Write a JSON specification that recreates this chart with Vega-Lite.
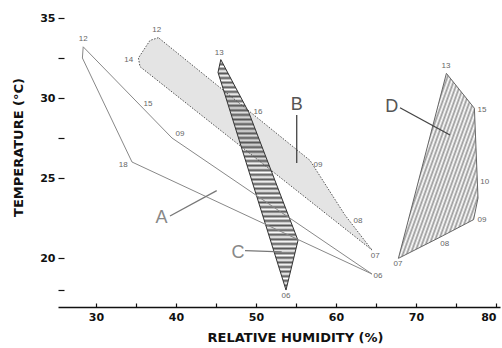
{
  "$schema": "https://vega.github.io/schema/vega-lite/v6.json",
  "width": 442,
  "height": 297,
  "autosize": "none",
  "padding": {"left": 58, "top": 10, "right": 2, "bottom": 41},
  "background": "white",
  "config": {"view": {"stroke": null}},
  "datasets": {
    "poly": [
      {"p": "A", "o": 1, "x": 28.4, "y": 33.2},
      {"p": "A", "o": 2, "x": 28.3, "y": 32.5},
      {"p": "A", "o": 3, "x": 34.5, "y": 26.0},
      {"p": "A", "o": 4, "x": 64.5, "y": 19.0},
      {"p": "A", "o": 5, "x": 39.5, "y": 27.5},
      {"p": "A", "o": 6, "x": 28.4, "y": 33.2},
      {"p": "B", "o": 1, "x": 37.8, "y": 33.77},
      {"p": "B", "o": 2, "x": 36.75, "y": 33.6},
      {"p": "B", "o": 3, "x": 35.3, "y": 32.5},
      {"p": "B", "o": 4, "x": 35.5, "y": 31.96},
      {"p": "B", "o": 5, "x": 64.5, "y": 20.5},
      {"p": "B", "o": 6, "x": 61.1, "y": 22.7},
      {"p": "B", "o": 7, "x": 56.75, "y": 26.1},
      {"p": "B", "o": 8, "x": 37.8, "y": 33.77},
      {"p": "C", "o": 1, "x": 45.6, "y": 32.4},
      {"p": "C", "o": 2, "x": 49.1, "y": 29.1},
      {"p": "C", "o": 3, "x": 55.25, "y": 21.1},
      {"p": "C", "o": 4, "x": 53.75, "y": 18.0},
      {"p": "C", "o": 5, "x": 45.25, "y": 31.6},
      {"p": "C", "o": 6, "x": 45.6, "y": 32.4},
      {"p": "D", "o": 1, "x": 73.8, "y": 31.54},
      {"p": "D", "o": 2, "x": 77.3, "y": 29.36},
      {"p": "D", "o": 3, "x": 77.75, "y": 23.75},
      {"p": "D", "o": 4, "x": 77.2, "y": 22.4},
      {"p": "D", "o": 5, "x": 73.0, "y": 21.3},
      {"p": "D", "o": 6, "x": 67.8, "y": 19.98},
      {"p": "D", "o": 7, "x": 73.8, "y": 31.54}
    ],
    "lbl": [
      {"t": "12", "x": 28.4, "y": 33.7},
      {"t": "15", "x": 36.5, "y": 29.6},
      {"t": "09", "x": 40.5, "y": 27.75},
      {"t": "18", "x": 33.4, "y": 25.8},
      {"t": "06", "x": 65.25, "y": 18.9},
      {"t": "12", "x": 37.6, "y": 34.25},
      {"t": "14", "x": 34.1, "y": 32.4},
      {"t": "09", "x": 57.75, "y": 25.8},
      {"t": "08", "x": 62.75, "y": 22.3},
      {"t": "07", "x": 64.9, "y": 20.1},
      {"t": "13", "x": 45.4, "y": 32.8},
      {"t": "16", "x": 50.25, "y": 29.1},
      {"t": "06", "x": 53.75, "y": 17.6},
      {"t": "13", "x": 73.75, "y": 32.0},
      {"t": "15", "x": 78.25, "y": 29.25},
      {"t": "10", "x": 78.6, "y": 24.75},
      {"t": "09", "x": 78.25, "y": 22.4},
      {"t": "08", "x": 73.6, "y": 20.9},
      {"t": "07", "x": 67.75, "y": 19.6}
    ],
    "letters": [
      {"t": "A", "x": 38.2, "y": 22.5},
      {"t": "B", "x": 55.1, "y": 29.56},
      {"t": "C", "x": 47.75, "y": 20.31},
      {"t": "D", "x": 66.96, "y": 29.46}
    ],
    "ptr": [
      {"t": "A", "x": 39.25, "y": 22.63, "x2": 45.09, "y2": 24.21},
      {"t": "B", "x": 55.09, "y": 28.94, "x2": 55.09, "y2": 25.94},
      {"t": "C", "x": 48.63, "y": 20.46, "x2": 53.21, "y2": 20.39},
      {"t": "D", "x": 68.0, "y": 29.39, "x2": 74.25, "y2": 27.69}
    ]
  },
  "encoding": {
    "x": {
      "field": "x", "type": "quantitative",
      "scale": {"domain": [25.25, 80.5], "nice": false, "zero": false},
      "axis": {
        "title": "RELATIVE HUMIDITY (%)",
        "values": [30, 35, 40, 45, 50, 55, 60, 65, 70, 75, 80],
        "labelExpr": "datum.value % 10 === 0 ? datum.label : ''",
        "labelFlush": 8,
        "grid": false,
        "domainColor": "#111", "domainWidth": 1.4,
        "tickColor": "#111", "tickSize": -4, "tickWidth": 1.2,
        "labelPadding": 8,
        "labelFont": "DejaVu Sans", "labelFontWeight": "bold", "labelFontSize": 11, "labelColor": "#111",
        "titleFont": "DejaVu Sans", "titleFontWeight": "bold", "titleFontSize": 13, "titleColor": "#111",
        "titleX": 237, "titleY": 24
      }
    },
    "y": {
      "field": "y", "type": "quantitative",
      "scale": {"domain": [16.94, 35.5], "nice": false, "zero": false},
      "axis": {
        "title": "TEMPERATURE (°C)",
        "values": [18, 20, 25, 27.5, 30, 32.5, 35],
        "labelExpr": "datum.value % 5 === 0 ? datum.label : ''",
        "grid": false,
        "domain": false,
        "tickColor": "#111", "tickSize": -6, "tickWidth": 1.2,
        "labelPadding": 9,
        "labelFont": "DejaVu Sans", "labelFontWeight": "bold", "labelFontSize": 11, "labelColor": "#111",
        "titleFont": "DejaVu Sans", "titleFontWeight": "bold", "titleFontSize": 13, "titleColor": "#111",
        "titleX": -33, "titleY": 137
      }
    }
  },
  "layer": [
    {
      "data": {"name": "poly"},
      "transform": [{"filter": "datum.p === 'B'"}],
      "mark": {"type": "line", "fill": "#e4e4e4", "stroke": "#555", "strokeWidth": 1, "strokeDash": [1.5, 1.5]},
      "encoding": {"order": {"field": "o", "type": "quantitative"}}
    },
    {
      "data": {"name": "poly"},
      "transform": [{"filter": "datum.p === 'C'"}],
      "mark": {
        "type": "line", "stroke": "#333", "strokeWidth": 1,
        "fill": {
          "gradient": "linear", "x1": 0, "y1": 0, "x2": 0, "y2": 1,
          "stops": [
            {"offset": 0, "color": "#555"}, {"offset": 0.01, "color": "rgba(85,85,85,0)"},
            {"offset": 0.02, "color": "#555"}, {"offset": 0.03, "color": "rgba(85,85,85,0)"},
            {"offset": 0.04, "color": "#555"}, {"offset": 0.05, "color": "rgba(85,85,85,0)"},
            {"offset": 0.06, "color": "#555"}, {"offset": 0.07, "color": "rgba(85,85,85,0)"},
            {"offset": 0.08, "color": "#555"}, {"offset": 0.09, "color": "rgba(85,85,85,0)"},
            {"offset": 0.10, "color": "#555"}, {"offset": 0.11, "color": "rgba(85,85,85,0)"},
            {"offset": 0.12, "color": "#555"}, {"offset": 0.13, "color": "rgba(85,85,85,0)"},
            {"offset": 0.14, "color": "#555"}, {"offset": 0.15, "color": "rgba(85,85,85,0)"},
            {"offset": 0.16, "color": "#555"}, {"offset": 0.17, "color": "rgba(85,85,85,0)"},
            {"offset": 0.18, "color": "#555"}, {"offset": 0.19, "color": "rgba(85,85,85,0)"},
            {"offset": 0.20, "color": "#555"}, {"offset": 0.21, "color": "rgba(85,85,85,0)"},
            {"offset": 0.22, "color": "#555"}, {"offset": 0.23, "color": "rgba(85,85,85,0)"},
            {"offset": 0.24, "color": "#555"}, {"offset": 0.25, "color": "rgba(85,85,85,0)"},
            {"offset": 0.26, "color": "#555"}, {"offset": 0.27, "color": "rgba(85,85,85,0)"},
            {"offset": 0.28, "color": "#555"}, {"offset": 0.29, "color": "rgba(85,85,85,0)"},
            {"offset": 0.30, "color": "#555"}, {"offset": 0.31, "color": "rgba(85,85,85,0)"},
            {"offset": 0.32, "color": "#555"}, {"offset": 0.33, "color": "rgba(85,85,85,0)"},
            {"offset": 0.34, "color": "#555"}, {"offset": 0.35, "color": "rgba(85,85,85,0)"},
            {"offset": 0.36, "color": "#555"}, {"offset": 0.37, "color": "rgba(85,85,85,0)"},
            {"offset": 0.38, "color": "#555"}, {"offset": 0.39, "color": "rgba(85,85,85,0)"},
            {"offset": 0.40, "color": "#555"}, {"offset": 0.41, "color": "rgba(85,85,85,0)"},
            {"offset": 0.42, "color": "#555"}, {"offset": 0.43, "color": "rgba(85,85,85,0)"},
            {"offset": 0.44, "color": "#555"}, {"offset": 0.45, "color": "rgba(85,85,85,0)"},
            {"offset": 0.46, "color": "#555"}, {"offset": 0.47, "color": "rgba(85,85,85,0)"},
            {"offset": 0.48, "color": "#555"}, {"offset": 0.49, "color": "rgba(85,85,85,0)"},
            {"offset": 0.50, "color": "#555"}, {"offset": 0.51, "color": "rgba(85,85,85,0)"},
            {"offset": 0.52, "color": "#555"}, {"offset": 0.53, "color": "rgba(85,85,85,0)"},
            {"offset": 0.54, "color": "#555"}, {"offset": 0.55, "color": "rgba(85,85,85,0)"},
            {"offset": 0.56, "color": "#555"}, {"offset": 0.57, "color": "rgba(85,85,85,0)"},
            {"offset": 0.58, "color": "#555"}, {"offset": 0.59, "color": "rgba(85,85,85,0)"},
            {"offset": 0.60, "color": "#555"}, {"offset": 0.61, "color": "rgba(85,85,85,0)"},
            {"offset": 0.62, "color": "#555"}, {"offset": 0.63, "color": "rgba(85,85,85,0)"},
            {"offset": 0.64, "color": "#555"}, {"offset": 0.65, "color": "rgba(85,85,85,0)"},
            {"offset": 0.66, "color": "#555"}, {"offset": 0.67, "color": "rgba(85,85,85,0)"},
            {"offset": 0.68, "color": "#555"}, {"offset": 0.69, "color": "rgba(85,85,85,0)"},
            {"offset": 0.70, "color": "#555"}, {"offset": 0.71, "color": "rgba(85,85,85,0)"},
            {"offset": 0.72, "color": "#555"}, {"offset": 0.73, "color": "rgba(85,85,85,0)"},
            {"offset": 0.74, "color": "#555"}, {"offset": 0.75, "color": "rgba(85,85,85,0)"},
            {"offset": 0.76, "color": "#555"}, {"offset": 0.77, "color": "rgba(85,85,85,0)"},
            {"offset": 0.78, "color": "#555"}, {"offset": 0.79, "color": "rgba(85,85,85,0)"},
            {"offset": 0.80, "color": "#555"}, {"offset": 0.81, "color": "rgba(85,85,85,0)"},
            {"offset": 0.82, "color": "#555"}, {"offset": 0.83, "color": "rgba(85,85,85,0)"},
            {"offset": 0.84, "color": "#555"}, {"offset": 0.85, "color": "rgba(85,85,85,0)"},
            {"offset": 0.86, "color": "#555"}, {"offset": 0.87, "color": "rgba(85,85,85,0)"},
            {"offset": 0.88, "color": "#555"}, {"offset": 0.89, "color": "rgba(85,85,85,0)"},
            {"offset": 0.90, "color": "#555"}, {"offset": 0.91, "color": "rgba(85,85,85,0)"},
            {"offset": 0.92, "color": "#555"}, {"offset": 0.93, "color": "rgba(85,85,85,0)"},
            {"offset": 0.94, "color": "#555"}, {"offset": 0.95, "color": "rgba(85,85,85,0)"},
            {"offset": 0.96, "color": "#555"}, {"offset": 0.97, "color": "rgba(85,85,85,0)"},
            {"offset": 0.98, "color": "#555"}, {"offset": 0.99, "color": "rgba(85,85,85,0)"},
            {"offset": 1, "color": "#555"}
          ]
        }
      },
      "encoding": {"order": {"field": "o", "type": "quantitative"}}
    },
    {
      "data": {"name": "poly"},
      "transform": [{"filter": "datum.p === 'A'"}],
      "mark": {"type": "line", "stroke": "#888", "strokeWidth": 1},
      "encoding": {"order": {"field": "o", "type": "quantitative"}}
    },
    {
      "data": {"name": "poly"},
      "transform": [{"filter": "datum.p === 'D'"}],
      "mark": {
        "type": "line", "stroke": "#666", "strokeWidth": 1,
        "fill": {
          "gradient": "linear", "x1": 0, "y1": 0, "x2": 1, "y2": 0.84,
          "stops": [
            {"offset": 0, "color": "#999"}, {"offset": 0.0143, "color": "#fff"},
            {"offset": 0.0286, "color": "#999"}, {"offset": 0.0429, "color": "#fff"},
            {"offset": 0.0571, "color": "#999"}, {"offset": 0.0714, "color": "#fff"},
            {"offset": 0.0857, "color": "#999"}, {"offset": 0.1, "color": "#fff"},
            {"offset": 0.1143, "color": "#999"}, {"offset": 0.1286, "color": "#fff"},
            {"offset": 0.1429, "color": "#999"}, {"offset": 0.1571, "color": "#fff"},
            {"offset": 0.1714, "color": "#999"}, {"offset": 0.1857, "color": "#fff"},
            {"offset": 0.2, "color": "#999"}, {"offset": 0.2143, "color": "#fff"},
            {"offset": 0.2286, "color": "#999"}, {"offset": 0.2429, "color": "#fff"},
            {"offset": 0.2571, "color": "#999"}, {"offset": 0.2714, "color": "#fff"},
            {"offset": 0.2857, "color": "#999"}, {"offset": 0.3, "color": "#fff"},
            {"offset": 0.3143, "color": "#999"}, {"offset": 0.3286, "color": "#fff"},
            {"offset": 0.3429, "color": "#999"}, {"offset": 0.3571, "color": "#fff"},
            {"offset": 0.3714, "color": "#999"}, {"offset": 0.3857, "color": "#fff"},
            {"offset": 0.4, "color": "#999"}, {"offset": 0.4143, "color": "#fff"},
            {"offset": 0.4286, "color": "#999"}, {"offset": 0.4429, "color": "#fff"},
            {"offset": 0.4571, "color": "#999"}, {"offset": 0.4714, "color": "#fff"},
            {"offset": 0.4857, "color": "#999"}, {"offset": 0.5, "color": "#fff"},
            {"offset": 0.5143, "color": "#999"}, {"offset": 0.5286, "color": "#fff"},
            {"offset": 0.5429, "color": "#999"}, {"offset": 0.5571, "color": "#fff"},
            {"offset": 0.5714, "color": "#999"}, {"offset": 0.5857, "color": "#fff"},
            {"offset": 0.6, "color": "#999"}, {"offset": 0.6143, "color": "#fff"},
            {"offset": 0.6286, "color": "#999"}, {"offset": 0.6429, "color": "#fff"},
            {"offset": 0.6571, "color": "#999"}, {"offset": 0.6714, "color": "#fff"},
            {"offset": 0.6857, "color": "#999"}, {"offset": 0.7, "color": "#fff"},
            {"offset": 0.7143, "color": "#999"}, {"offset": 0.7286, "color": "#fff"},
            {"offset": 0.7429, "color": "#999"}, {"offset": 0.7571, "color": "#fff"},
            {"offset": 0.7714, "color": "#999"}, {"offset": 0.7857, "color": "#fff"},
            {"offset": 0.8, "color": "#999"}, {"offset": 0.8143, "color": "#fff"},
            {"offset": 0.8286, "color": "#999"}, {"offset": 0.8429, "color": "#fff"},
            {"offset": 0.8571, "color": "#999"}, {"offset": 0.8714, "color": "#fff"},
            {"offset": 0.8857, "color": "#999"}, {"offset": 0.9, "color": "#fff"},
            {"offset": 0.9143, "color": "#999"}, {"offset": 0.9286, "color": "#fff"},
            {"offset": 0.9429, "color": "#999"}, {"offset": 0.9571, "color": "#fff"},
            {"offset": 0.9714, "color": "#999"}, {"offset": 0.9857, "color": "#fff"},
            {"offset": 1, "color": "#999"}
          ]
        }
      },
      "encoding": {"order": {"field": "o", "type": "quantitative"}}
    },
    {
      "data": {"name": "ptr"},
      "mark": {"type": "rule", "strokeWidth": 1.3},
      "encoding": {
        "x2": {"field": "x2"},
        "y2": {"field": "y2"},
        "color": {"condition": {"test": "datum.t === 'A' || datum.t === 'C'", "value": "#777"}, "value": "#444"}
      }
    },
    {
      "data": {"name": "letters"},
      "mark": {"type": "text", "font": "Liberation Sans", "fontSize": 18, "align": "center", "baseline": "middle"},
      "encoding": {
        "text": {"field": "t"},
        "color": {"condition": {"test": "datum.t === 'A' || datum.t === 'C'", "value": "#888"}, "value": "#555"}
      }
    },
    {
      "data": {"name": "lbl"},
      "mark": {"type": "text", "font": "Liberation Sans", "fontSize": 8, "align": "center", "baseline": "middle", "fill": "#666"},
      "encoding": {"text": {"field": "t"}}
    }
  ]
}
